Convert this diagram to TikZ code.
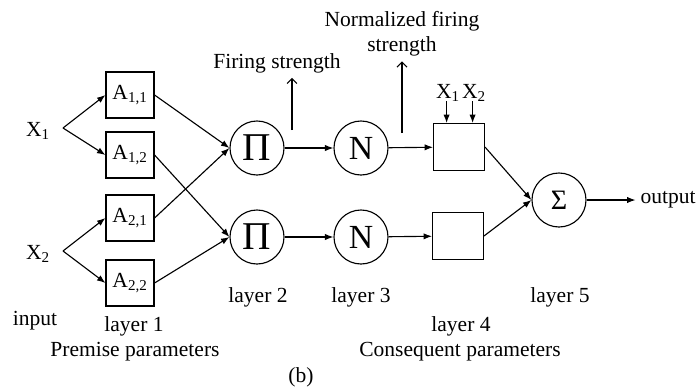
\documentclass[tikz,border=0pt]{standalone}
\usepackage{fontspec}
\setmainfont{Liberation Serif}
\usetikzlibrary{arrows.meta}

\tikzset{
  mf/.style={draw, line width=0.8pt, minimum width=1.2cm, minimum height=1.15cm, inner sep=0pt},
  cons/.style={draw, line width=0.8pt, minimum width=1.27cm, minimum height=1.17cm, inner sep=0pt},
  op/.style={draw, circle, line width=0.8pt, minimum size=1.35cm, inner sep=0pt},
  conn/.style={line width=0.8pt, -{Latex[length=6pt,width=4.5pt]}},
  fire/.style={line width=0.8pt, -{Straight Barb[length=3.5pt,width=7pt]}}
}

\begin{document}
\begin{tikzpicture}[x=0.025cm,y=-0.025cm,font=\fontsize{15.3}{17.8}\selectfont]
    \useasboundingbox (0,0) rectangle (700,391);
    \node (x1) at (38,131) {X\textsubscript{1}};
    \node (x2) at (38,254) {X\textsubscript{2}};
    \coordinate (f1) at (63,128);
    \coordinate (f2) at (63,251);
    \node[mf] (a11) at (130,95) {A\textsubscript{1,1}};
    \node[mf] (a12) at (130,155) {A\textsubscript{1,2}};
    \node[mf] (a21) at (130,218) {A\textsubscript{2,1}};
    \node[mf] (a22) at (130,283) {A\textsubscript{2,2}};
    \node[op,font=\fontsize{28}{28}\selectfont] (p1) at (257,148) {Π};
    \node[op,font=\fontsize{28}{28}\selectfont] (p2) at (257,237) {Π};
    \node[op,font=\fontsize{24}{24}\selectfont] (n1) at (361,148) {N};
    \node[op,font=\fontsize{24}{24}\selectfont] (n2) at (361,237) {N};
    \node[cons] (b1) at (459,147) {};
    \node[cons] (b2) at (458,236) {};
    \node[op,font=\fontsize{20}{20}\selectfont] (s) at (559,200) {Σ};
    \node (out) at (668,200) {output};
    \node (bx1) at (448,93) {X\textsubscript{1}};
    \node (bx2) at (474,93) {X\textsubscript{2}};
    \node (fst) at (277,63) {Firing strength};
    \node[align=center] (nfs) at (402,34) {Normalized firing\\strength};
    \coordinate (fs1) at (292,130);
    \coordinate (fs2) at (402,133);
    \node (in) at (35,321) {input};
    \node (l1) at (134,326) {layer 1};
    \node (pp) at (135,352) {Premise parameters};
    \node (l2) at (258,297) {layer 2};
    \node (l3) at (361,297) {layer 3};
    \node (l4) at (461,326) {layer 4};
    \node (cp) at (460,352) {Consequent parameters};
    \node (l5) at (560,297) {layer 5};
    \node (cap) at (301,377) {(b)};
    \draw[conn] (f1) -- (a11.west);
    \draw[conn] (f1) -- (a12.west);
    \draw[conn] (f2) -- (a21.west);
    \draw[conn] (f2) -- (a22.west);
    \draw[conn] (a11.east) -- (p1.west);
    \draw[conn] (a21.east) -- (p1.west);
    \draw[conn] (a12.east) -- (p2.west);
    \draw[conn] (a22.east) -- (p2.west);
    \draw[conn] (p1) -- (n1);
    \draw[conn] (p2) -- (n2);
    \draw[conn] (n1) -- (b1);
    \draw[conn] (n2) -- (b2);
    \draw[conn] (b1.east) -- (s.west);
    \draw[conn] (b2.east) -- (s.west);
    \draw[conn] (s) -- (out);
    \draw[conn] ([xshift=-1pt,yshift=-2pt]bx1.base) -- ([xshift=-1pt]bx1.base |- b1.north);
    \draw[conn] ([xshift=-1pt,yshift=-2pt]bx2.base) -- ([xshift=-1pt]bx2.base |- b1.north);
    \draw[fire] (fs1) -- (fs1 |- fst.south);
    \draw[fire] (fs2) -- (fs2 |- nfs.south);
\end{tikzpicture}
\end{document}
